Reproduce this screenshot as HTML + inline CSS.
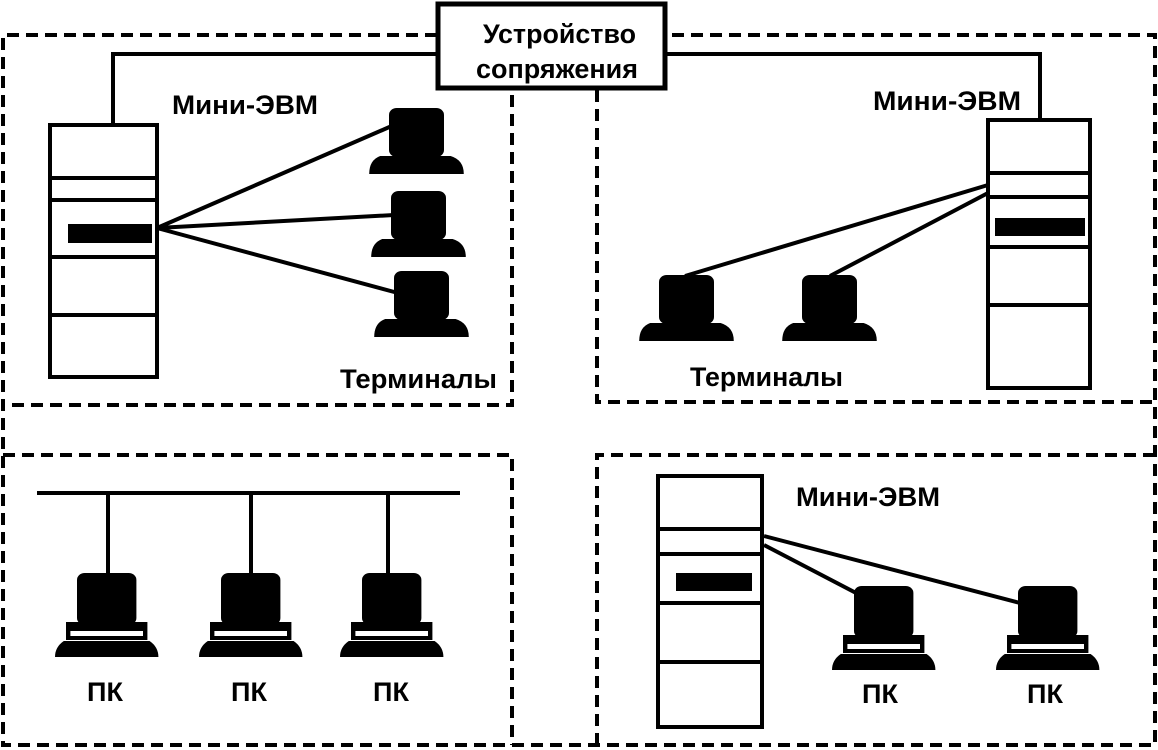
<!DOCTYPE html>
<html><head><meta charset="utf-8"><style>
html,body{margin:0;padding:0;background:#fff}
svg{display:block}
text{font-family:"Liberation Sans",sans-serif;font-weight:bold;fill:#000}
</style></head><body>
<svg width="1158" height="750" viewBox="0 0 1158 750" xmlns="http://www.w3.org/2000/svg">
<defs>
<g id="term">
<rect x="0" y="0" width="50" height="49" rx="7" fill="#000"/>
<path d="M-18,66 Q-18,52 -8,48 L56,48 Q68,52 68,66 Z" fill="#000"/>
</g>
<g id="pc">
<rect x="0" y="0" width="54" height="52" rx="7" fill="#000"/>
<rect x="-10" y="49" width="74" height="18" fill="#000"/>
<rect x="-6" y="58" width="66" height="5" fill="#fff"/>
<path d="M-20,84 Q-20,74 -12,68 L66,68 Q74,74 74,84 Z" fill="#000"/>
</g>
</defs>
<g fill="none" stroke="#000" stroke-width="4" stroke-dasharray="12,7">
<path d="M437,35 H3 V745 H1155 V35 H666"/>
<path d="M512,95 V405 H3"/>
<path d="M597,90 V402 H1155"/>
<path d="M3,455 H512 V745"/>
<path d="M1155,455 H597 V745"/>
</g>
<rect x="438" y="4" width="227" height="84" fill="#fff" stroke="#000" stroke-width="5"/>
<text x="483" y="43" font-size="27" textLength="153" lengthAdjust="spacingAndGlyphs">Устройство</text>
<text x="476" y="78" font-size="27" textLength="162" lengthAdjust="spacingAndGlyphs">сопряжения</text>
<g stroke="#000" stroke-width="4" fill="none">
<path d="M437,54 H113 V124"/>
<path d="M666,54 H1040 V120"/>
</g>
<!-- left server -->
<g stroke="#000" stroke-width="4" fill="#fff">
<rect x="50" y="125" width="107" height="252"/>
<path d="M50,178 H157 M50,200 H157 M50,257 H157 M50,315 H157"/>
</g>
<rect x="68" y="224" width="84" height="19" fill="#000"/>
<g stroke="#000" stroke-width="4">
<line x1="157" y1="228" x2="394" y2="125"/>
<line x1="157" y1="228" x2="394" y2="215"/>
<line x1="157" y1="228" x2="398" y2="293"/>
</g>
<use href="#term" transform="translate(389,108) scale(1.1,1)"/>
<use href="#term" transform="translate(391,191) scale(1.1,1)"/>
<use href="#term" transform="translate(394,271) scale(1.1,1)"/>
<text x="172" y="114" font-size="27" textLength="146" lengthAdjust="spacingAndGlyphs">Мини-ЭВМ</text>
<text x="340" y="388" font-size="27" textLength="157" lengthAdjust="spacingAndGlyphs">Терминалы</text>
<!-- right top server -->
<g stroke="#000" stroke-width="4" fill="#fff">
<rect x="988" y="120" width="102" height="268"/>
<path d="M988,173 H1090 M988,197 H1090 M988,247 H1090 M988,305 H1090"/>
</g>
<rect x="995" y="218" width="90" height="18" fill="#000"/>
<g stroke="#000" stroke-width="4">
<line x1="988" y1="185" x2="685" y2="276"/>
<line x1="988" y1="193" x2="830" y2="276"/>
</g>
<use href="#term" transform="translate(659,275) scale(1.1,1)"/>
<use href="#term" transform="translate(802,275) scale(1.1,1)"/>
<text x="873" y="110" font-size="27" textLength="148" lengthAdjust="spacingAndGlyphs">Мини-ЭВМ</text>
<text x="690" y="386" font-size="27" textLength="153" lengthAdjust="spacingAndGlyphs">Терминалы</text>
<!-- bottom left -->
<g stroke="#000" stroke-width="4">
<line x1="37" y1="493" x2="460" y2="493"/>
<line x1="108" y1="493" x2="108" y2="575"/>
<line x1="251" y1="493" x2="251" y2="575"/>
<line x1="388" y1="493" x2="388" y2="575"/>
</g>
<use href="#pc" transform="translate(77,573) scale(1.1,1)"/>
<use href="#pc" transform="translate(221,573) scale(1.1,1)"/>
<use href="#pc" transform="translate(362,573) scale(1.1,1)"/>
<text x="105" y="701" font-size="27" text-anchor="middle">ПК</text>
<text x="249" y="701" font-size="27" text-anchor="middle">ПК</text>
<text x="391" y="701" font-size="27" text-anchor="middle">ПК</text>
<!-- bottom right -->
<g stroke="#000" stroke-width="4" fill="#fff">
<rect x="658" y="476" width="104" height="251"/>
<path d="M658,529 H762 M658,554 H762 M658,603 H762 M658,662 H762"/>
</g>
<rect x="676" y="573" width="76" height="18" fill="#000"/>
<g stroke="#000" stroke-width="4">
<line x1="764" y1="536" x2="1020" y2="603"/>
<line x1="764" y1="545" x2="858" y2="594"/>
</g>
<use href="#pc" transform="translate(854,586) scale(1.1,1)"/>
<use href="#pc" transform="translate(1018,586) scale(1.1,1)"/>
<text x="796" y="506" font-size="27" textLength="144" lengthAdjust="spacingAndGlyphs">Мини-ЭВМ</text>
<text x="880" y="703" font-size="27" text-anchor="middle">ПК</text>
<text x="1045" y="703" font-size="27" text-anchor="middle">ПК</text>
</svg>
</body></html>
